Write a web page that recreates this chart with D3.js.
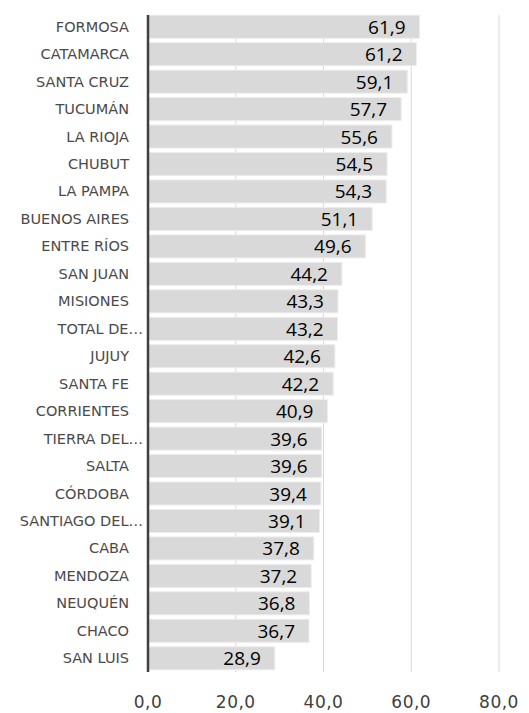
<!DOCTYPE html>
<html lang="es">
<head>
    <meta charset="UTF-8">
    <title>Provincias</title>
    <script src="https://d3js.org/d3.v7.min.js"></script>
    <style>
        body { margin: 0; background: #fff; }
        .cat { font-family: "DejaVu Sans", Verdana, sans-serif; font-size: 14.5px; fill: #4a4a4a; }
        .val { font-family: "Open Sans", sans-serif; font-size: 19px; fill: #000; }
        .tick-lbl { font-family: "DejaVu Sans", Verdana, sans-serif; font-size: 17px; fill: #404040; letter-spacing: 0.5px; }
    </style>
</head>
<body>
<div id="chart"></div>
<script>
const categories = ["FORMOSA", "CATAMARCA", "SANTA CRUZ", "TUCUMÁN", "LA RIOJA", "CHUBUT",
    "LA PAMPA", "BUENOS AIRES", "ENTRE RÍOS", "SAN JUAN", "MISIONES", "TOTAL DE…",
    "JUJUY", "SANTA FE", "CORRIENTES", "TIERRA DEL…", "SALTA", "CÓRDOBA",
    "SANTIAGO DEL…", "CABA", "MENDOZA", "NEUQUÉN", "CHACO", "SAN LUIS"];
const values = [61.9, 61.2, 59.1, 57.7, 55.6, 54.5, 54.3, 51.1, 49.6, 44.2, 43.3, 43.2,
    42.6, 42.2, 40.9, 39.6, 39.6, 39.4, 39.1, 37.8, 37.2, 36.8, 36.7, 28.9];
const xTicks = [0, 20, 40, 60, 80];

const width = 529, height = 713;
const data = categories.map((c, i) => ({ cat: c, v: values[i] }));
const fmt = v => d3.format(".1f")(v).replace(".", ",");

const svg = d3.select("#chart").append("svg")
    .attr("width", width)
    .attr("height", height);

const x = d3.scaleLinear().domain([0, 80]).range([148, 499]);
const y = d3.scaleBand().domain(categories).range([13, 672]).paddingInner(0.16).paddingOuter(0.08);

// grid
svg.append("g").selectAll("line")
    .data(xTicks.slice(1))
    .join("line")
    .attr("x1", d => x(d)).attr("x2", d => x(d))
    .attr("y1", 15).attr("y2", 672)
    .attr("stroke", "#d9d9d9")
    .attr("stroke-width", 1);

// bars
svg.append("g").selectAll("rect")
    .data(data)
    .join("rect")
    .attr("x", x(0))
    .attr("y", d => y(d.cat))
    .attr("width", d => x(d.v) - x(0))
    .attr("height", y.bandwidth())
    .attr("fill", "#d9d9d9")
    .attr("stroke", "#ededed")
    .attr("stroke-width", 1);

// value labels
svg.append("g").selectAll("text")
    .data(data)
    .join("text")
    .attr("class", "val")
    .attr("x", d => x(d.v) - 14)
    .attr("y", d => y(d.cat) + y.bandwidth() / 2 + 7)
    .attr("text-anchor", "end")
    .text(d => fmt(d.v));

// category labels
svg.append("g").selectAll("text")
    .data(categories)
    .join("text")
    .attr("class", "cat")
    .attr("x", d => d.endsWith("…") ? 143 : 129)
    .attr("y", d => y(d) + y.bandwidth() / 2 + 5)
    .attr("text-anchor", "end")
    .text(d => d);

// zero axis line
svg.append("line")
    .attr("x1", x(0)).attr("x2", x(0))
    .attr("y1", 15).attr("y2", 672)
    .attr("stroke", "#404040")
    .attr("stroke-width", 2.5);

// x tick labels
svg.append("g").selectAll("text")
    .data(xTicks)
    .join("text")
    .attr("class", "tick-lbl")
    .attr("x", d => x(d))
    .attr("y", 708)
    .attr("text-anchor", "middle")
    .text(d => fmt(d));
</script>
</body>
</html>
